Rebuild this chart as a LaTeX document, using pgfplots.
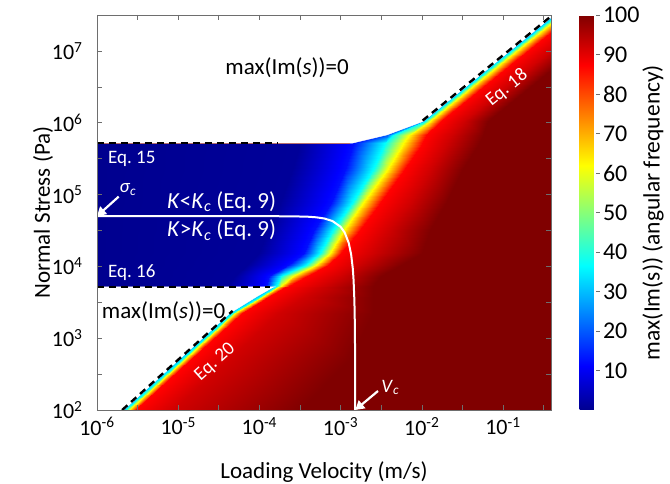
\documentclass[border=0pt]{standalone}
\usepackage{fontspec}
\setmainfont{Carlito}
\usepackage{pgfplots}
\pgfplotsset{compat=1.18}
\usetikzlibrary{arrows.meta}
\definecolor{jetdark}{RGB}{128,0,0}
\definecolor{framegray}{RGB}{110,110,110}
\pgfplotsset{
  colormap={matjet}{rgb255(0cm)=(0,0,143) rgb255(7cm)=(0,0,255) rgb255(23cm)=(0,255,255)
    rgb255(39cm)=(255,255,0) rgb255(55cm)=(255,0,0) rgb255(63cm)=(128,0,0)}
}
\newcommand{\tickfont}{\fontsize{22}{24}\selectfont}
\newcommand{\labfont}{\fontsize{23}{26}\selectfont}
\newcommand{\eqfont}{\fontsize{19}{22}\selectfont}

\begin{document}
\begin{tikzpicture}
\begin{axis}[
  name=ax,
  scale only axis, width=454pt, height=395pt,
  xmode=log, ymode=log,
  xmin=1e-6, xmax=0.39, ymin=100, ymax=3.162e7,
  xtick={1e-6,1e-5,1e-4,1e-3,1e-2,1e-1},
  xticklabels={10\textsuperscript{-6},10\textsuperscript{-5},10\textsuperscript{-4},10\textsuperscript{-3},10\textsuperscript{-2},10\textsuperscript{-1}},
  minor xtick={3.162e-6,3.162e-5,3.162e-4,3.162e-3,3.162e-2,3.162e-1},
  ytick={1e2,1e3,1e4,1e5,1e6,1e7},
  yticklabels={10\textsuperscript{2},10\textsuperscript{3},10\textsuperscript{4},10\textsuperscript{5},10\textsuperscript{6},10\textsuperscript{7}},
  minor ytick={316.2,3162,31620,316200,3162000},
  tick align=inside,
  major tick length=5pt, minor tick length=5pt,
  tick style={framegray, line width=0.6pt},
  axis line style={framegray, line width=0.8pt},
  tick label style={font=\tickfont},
  yticklabel style={xshift=-11pt},
  xticklabel style={yshift=-4pt},
  label style={font=\labfont},
  xlabel={Loading Velocity (m/s)},
  ylabel={Normal Stress (Pa)},
  xlabel style={yshift=-19pt},
  ylabel style={yshift=-8pt},
  colormap name=matjet,
  point meta min=0, point meta max=100,
  colorbar,
  colorbar style={
    at={(parent axis.north east)}, anchor=north west, xshift=20pt,
    scale only axis, width=20pt, height=395pt,
    ytick={10,20,30,40,50,60,70,80,90,100},
    yticklabels={10,20,30,40,50,60,70,80,90,100},
    ytick pos=right,
    tick align=inside, major tick length=4pt,
    tick style={framegray, line width=0.6pt},
    axis line style={draw=none},
    yticklabel style={font=\fontsize{24}{26}\selectfont},
    ylabel={max(Im(s)) (angular frequency)},
    ylabel style={font=\fontsize{23.5}{26}\selectfont, yshift=4pt},
  },
  axis background/.style={fill=jetdark},
  axis on top,
]

% max(Im(s)) field: rows of constant stress, columns follow the colour bands
\addplot[surf, shader=interp, mesh/cols=8, point meta=explicit] table[x=x, y=y, meta=c] {
x y c
1.905e-6 100 32
2.138e-6 100 32
2.138e-6 100 32
2.239e-6 100 37
2.455e-6 100 62
2.951e-6 100 87
8.511e-6 100 92
3.162e-4 100 100
9.120e-6 501.2 32
1.023e-5 501.2 32
1.023e-5 501.2 32
1.072e-5 501.2 37
1.175e-5 501.2 62
1.413e-5 501.2 87
4.074e-5 501.2 92
1.259e-3 501.2 100
3.890e-5 2239 32
4.365e-5 2239 32
4.365e-5 2239 32
4.571e-5 2239 37
5.012e-5 2239 62
6.026e-5 2239 87
1.738e-4 2239 92
2.512e-3 2239 100
8.318e-5 3802 32
9.333e-5 3802 32
9.333e-5 3802 32
9.772e-5 3802 37
1.072e-4 3802 62
1.288e-4 3802 87
3.548e-4 3802 92
2.512e-3 3802 100
1.318e-4 5129 32
1.479e-4 5129 32
1.479e-4 5129 32
1.549e-4 5129 37
1.698e-4 5129 62
2.042e-4 5129 87
5.623e-4 5129 92
2.512e-3 5129 100
1e-6 5248 0
3.981e-5 5248 1
1.202e-4 5248 12.5
1.585e-4 5248 37
1.820e-4 5248 62
2.291e-4 5248 87
6.310e-4 5248 92
2.512e-3 5248 100
1e-6 7244 0
5.012e-5 7244 1
1.318e-4 7244 12.5
1.820e-4 7244 37
2.630e-4 7244 62
3.890e-4 7244 87
1e-3 7244 92
3.162e-3 7244 100
1e-6 10471 0
7.079e-5 10471 1
2.239e-4 10471 12.5
3.802e-4 10471 37
5.012e-4 10471 62
7.079e-4 10471 87
1.585e-3 10471 92
5.623e-3 10471 100
1e-6 15136 0
1e-4 15136 1
3.548e-4 15136 12.5
5.623e-4 15136 37
7.413e-4 15136 62
1e-3 15136 87
2.512e-3 15136 92
1e-2 15136 100
1e-6 32359 0
1.259e-4 32359 1
4.677e-4 32359 12.5
8.128e-4 32359 37
1.096e-3 32359 62
1.738e-3 32359 87
3.981e-3 32359 92
1.259e-2 32359 100
1e-6 75858 0
1.778e-4 75858 1
7.586e-4 75858 12.5
1.380e-3 75858 37
1.905e-3 75858 62
3.090e-3 75858 87
7.079e-3 75858 92
1.995e-2 75858 100
1e-6 218780 0
2.512e-4 218780 1
1.122e-3 218780 12.5
2.512e-3 218780 37
3.715e-3 218780 62
6.026e-3 218780 87
1.259e-2 218780 92
3.162e-2 218780 100
1e-6 512860 0
3.162e-4 512860 1
1.413e-3 512860 12.5
3.548e-3 512860 37
5.888e-3 512860 62
1e-2 512860 87
1.995e-2 512860 92
5.012e-2 512860 100
1.288e-3 524810 13
1.445e-3 524810 13
1.445e-3 524810 13
3.548e-3 524810 37
5.888e-3 524810 62
1e-2 524810 87
1.995e-2 524810 92
5.012e-2 524810 100
3.311e-3 676080 20
3.715e-3 676080 20
3.715e-3 676080 20
4.365e-3 676080 37
6.918e-3 676080 62
1.122e-2 676080 87
2.344e-2 676080 92
5.623e-2 676080 100
9.333e-3 1047100 26
1.047e-2 1047100 26
1.047e-2 1047100 26
1.096e-2 1047100 37
1.259e-2 1047100 62
1.738e-2 1047100 87
3.311e-2 1047100 92
6.607e-2 1047100 100
6.607e-2 6309600 30
7.413e-2 6309600 30
7.413e-2 6309600 30
7.762e-2 6309600 37
8.913e-2 6309600 62
0.1230 6309600 87
0.2344 6309600 92
0.4677 6309600 100
0.4898 39811000 30
0.5495 39811000 30
0.5495 39811000 30
0.5754 39811000 37
0.6607 39811000 62
0.9120 39811000 87
1.738 39811000 92
3.467 39811000 100
};

% regions where max(Im(s)) = 0
\addplot[draw=white, line width=0.4pt, fill=white] coordinates {
  (1e-6,518800) (1.380e-3,518800) (1.445e-3,524810) (3.715e-3,676080)
  (1.047e-2,1047100) (7.413e-2,6309600) (0.5495,39811000) (1e-6,39811000)
} -- cycle;
\addplot[draw=white, line width=0.4pt, fill=white] coordinates {
  (1e-6,100) (2.138e-6,100) (1.023e-5,501.2) (4.365e-5,2239) (9.333e-5,3802)
  (1.479e-4,5129) (1.585e-4,5188) (1e-6,5188)
} -- cycle;

% boundaries (Eq. 15, 16, 18, 20)
\addplot[black, line width=2.4pt, dash pattern=on 7pt off 5pt] coordinates {(1e-6,518800) (1.66e-4,518800)};
\addplot[black, line width=2.4pt, dash pattern=on 7pt off 5pt] coordinates {(1e-6,5188) (1.349e-4,5188)};
\addplot[black, line width=2.4pt, dash pattern=on 7pt off 5pt] coordinates {(2.042e-6,100) (4.677e-5,2399)};
\addplot[black, line width=2.4pt, dash pattern=on 7pt off 5pt] coordinates {(1.023e-2,1071500) (0.3981,30903000)};

% K = Kc (Eq. 9)
\addplot[white, line width=2pt] coordinates {
  (1e-6,5e4) (1e-4,4.998e4) (2.512e-4,4.977e4) (3.981e-4,4.909e4) (5.012e-4,4.818e4)
  (6.310e-4,4.638e4) (7.943e-4,4.278e4) (1e-3,3.558e4) (1.122e-3,2.963e4)
  (1.259e-3,2.123e4) (1.349e-3,1.461e4) (1.413e-3,9360) (1.445e-3,6450)
  (1.479e-3,3340) (1.496e-3,1700) (1.507e-3,685) (1.512e-3,173) (1.514e-3,100)
};

\node[font=\labfont] at (axis cs:2.19e-4,5.75e6) {max(Im(\textit{s}))=0};
\node[font=\labfont, anchor=west, inner sep=0pt] at (axis cs:1.143e-6,2317) {max(Im(\textit{s}))=0};
\node[white, font=\eqfont, anchor=west, inner sep=0pt] at (axis cs:1.365e-6,3.13e5) {Eq.~15};
\node[white, font=\eqfont, anchor=west, inner sep=0pt] at (axis cs:1.365e-6,8090) {Eq.~16};
\node[white, font=\labfont, anchor=west, inner sep=0pt] at (axis cs:7.28e-6,7.94e4) {\textit{K}<\textit{K}\textsubscript{\textit{c}} (Eq.~9)};
\node[white, font=\labfont, anchor=west, inner sep=0pt] at (axis cs:7.28e-6,3.21e4) {\textit{K}>\textit{K}\textsubscript{\textit{c}} (Eq.~9)};
\node[white, font=\eqfont, rotate=42, inner sep=0pt] at (axis cs:2.85e-5,465) {Eq.~20};
\node[white, font=\eqfont, rotate=39, inner sep=0pt] at (axis cs:0.112,3.05e6) {Eq.~18};
\node[white, font=\eqfont, inner sep=0pt] at (axis cs:2.40e-6,1.18e5) {\textit{σ}\textsubscript{\textit{c}}};
\node[white, font=\eqfont, inner sep=0pt] at (axis cs:4.1e-3,205) {\textit{V}\textsubscript{\textit{c}}};
\draw[white, line width=2.2pt, -{Triangle[length=9pt,width=10pt]}] (axis cs:1.849e-6,9.35e4) -- (axis cs:1e-6,5e4);
\draw[white, line width=2.2pt, -{Triangle[length=9pt,width=10pt]}] (axis cs:2.89e-3,184) -- (axis cs:1.514e-3,100);
\end{axis}
\pgfresetboundingbox
\path[use as bounding box] (ax.south west) ++(-97pt,-74pt) rectangle ++(670pt,484pt);
\end{tikzpicture}
\end{document}
